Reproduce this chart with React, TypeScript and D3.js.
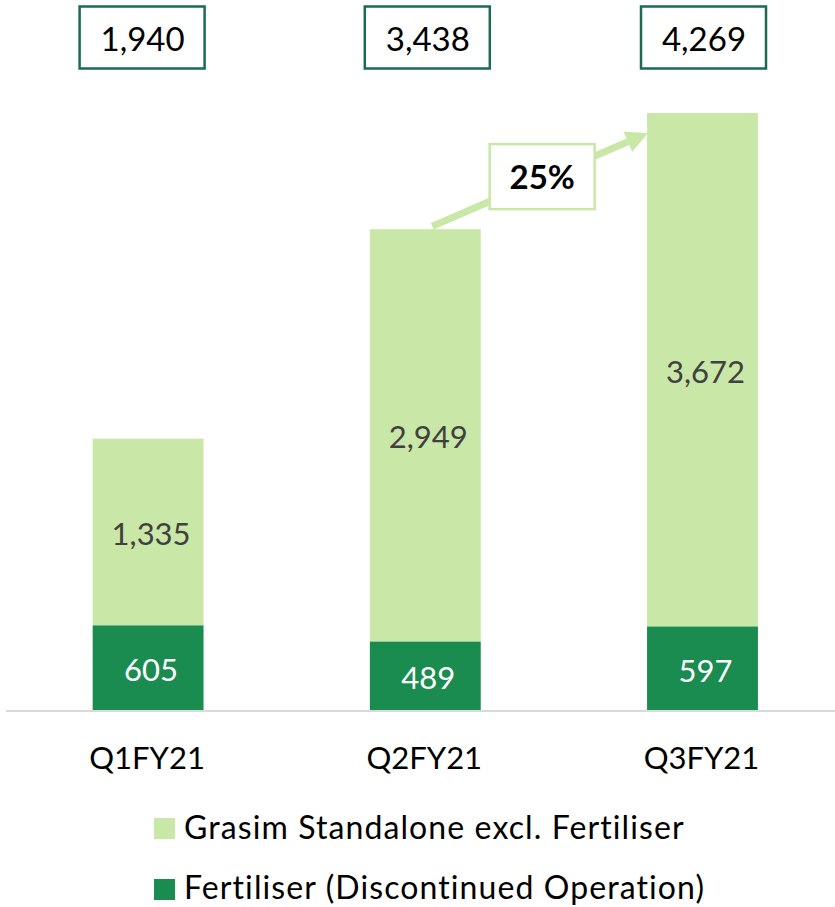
import React from "react";
import * as d3 from "d3";

const categories = ["Q1FY21", "Q2FY21", "Q3FY21"];
const fertiliser = [605, 489, 597];
const standalone = [1335, 2949, 3672];
const totals = [1940, 3438, 4269];
const growthLabel = "25%";
const seriesNames = ["Grasim Standalone excl. Fertiliser", "Fertiliser (Discontinued Operation)"];

const W = 835;
const H = 907;
const LIGHT = "#c9e7a7";
const DARK = "#1b8c50";
const BOX = "#1a6b50";
const FONT = "Lato, 'Open Sans', sans-serif";
const boxShift = [-6, 2, 1];

export default function App() {
  const x = d3.scaleBand<string>().domain(categories).range([9.5, 841.1]).paddingInner(0.6).paddingOuter(0.3);
  const y = d3.scaleLinear().domain([0, d3.max(totals) as number]).range([710, 113]);
  const bw = x.bandwidth();
  const fmt = d3.format(",");

  // arrow from Q2 top to Q3 top
  const x1 = (x(categories[1]) as number) + bw / 2 + 7;
  const y1 = y(totals[1]) - 3;
  const x2 = (x(categories[2]) as number) + 1;
  const y2 = y(totals[2]) + 20;
  const ang = Math.atan2(y2 - y1, x2 - x1);
  const headLen = 22;
  const headW = 11;
  const bx = x2 - headLen * Math.cos(ang);
  const by = y2 - headLen * Math.sin(ang);
  const px = -Math.sin(ang);
  const py = Math.cos(ang);
  const head = `M${x2},${y2}L${bx + px * headW},${by + py * headW}L${bx - px * headW},${by - py * headW}Z`;
  const lbx = (x1 + x2) / 2 + 2;
  const lby = (y1 + y2) / 2 - 3;

  return (
    <svg width={W} height={H} style={{ position: "absolute", left: 0, top: 0, background: "#fff" }} fontFamily={FONT}>
      <line x1={6} x2={835} y1={711} y2={711} stroke="#d9d9d9" strokeWidth={2} />
      {categories.map((c, i) => {
        const bx0 = x(c) as number;
        const cx = bx0 + bw / 2;
        const top = y(fertiliser[i] + standalone[i]);
        const mid = y(fertiliser[i]);
        return (
          <g key={c}>
            <rect x={bx0} width={bw} y={top} height={mid - top} fill={LIGHT} />
            <rect x={bx0} width={bw} y={mid} height={y(0) - mid} fill={DARK} />
            <text x={cx + 3} y={(mid + top) / 2 + 13} textAnchor="middle" fontSize={31} fill="#404040">
              {fmt(standalone[i])}
            </text>
            <text x={cx + 3} y={(mid + y(0)) / 2 + 13.5} textAnchor="middle" fontSize={31} fill="#ffffff">
              {fmt(fertiliser[i])}
            </text>
            <text x={cx - 1} y={769} textAnchor="middle" fontSize={31} fill="#000">
              {c}
            </text>
            <rect x={cx + boxShift[i] - 62.5} y={6.5} width={125} height={62} fill="#fff" stroke={BOX} strokeWidth={2.5} />
            <text x={cx + boxShift[i] + 0.5} y={50.5} textAnchor="middle" fontSize={33} fill="#000">
              {fmt(totals[i])}
            </text>
          </g>
        );
      })}
      <line x1={x1} y1={y1} x2={bx} y2={by} stroke={LIGHT} strokeWidth={7} />
      <path d={head} fill={LIGHT} />
      <rect x={lbx - 52.5} y={lby - 32.5} width={105} height={65} fill="#fff" stroke={LIGHT} strokeWidth={2.5} />
      <text x={lbx} y={lby + 12} textAnchor="middle" fontSize={33} fontWeight="bold" fill="#000">
        {growthLabel}
      </text>
      {seriesNames.map((s, i) => (
        <g key={s}>
          <rect x={154} y={818 + i * 61} width={21} height={21} fill={i === 0 ? LIGHT : DARK} />
          <text x={184} y={838.5 + i * 60.5} fontSize={32} letterSpacing={1.1} fill="#000">
            {s}
          </text>
        </g>
      ))}
    </svg>
  );
}
